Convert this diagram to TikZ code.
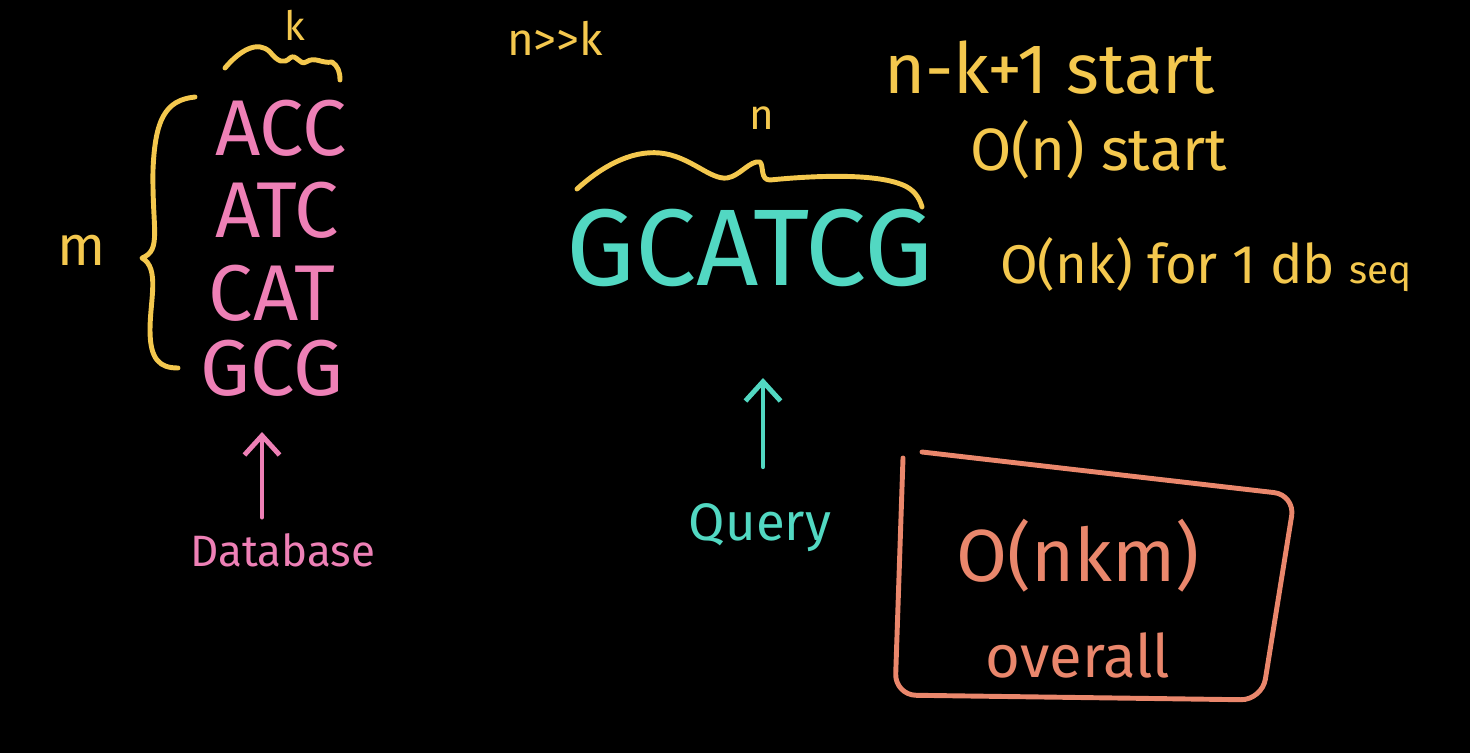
\documentclass[tikz,border=0pt]{standalone}
\usepackage{fontspec}
\setmainfont{Fira Sans}
\usetikzlibrary{arrows.meta}
\definecolor{chalkyellow}{HTML}{F4C84E}
\definecolor{chalkpink}{HTML}{EE80B6}
\definecolor{chalkteal}{HTML}{52D8C2}
\definecolor{chalkorange}{HTML}{EA876C}
\newcommand\chalksize[1]{\fontsize{#1}{#1}\selectfont}
\tikzset{
  chalk/.style={line width=2.8pt, line cap=round, line join=round},
  word/.style={inner sep=1pt},
  hand/.style={chalk, -{Straight Barb[length=11pt,width=20pt,line width=2.8pt]}}
}
\begin{document}
\begin{tikzpicture}[x=0.02cm, y=-0.02cm]
        \fill[black] (0,0) rectangle (1470,753);
        \useasboundingbox (0,0) rectangle (1470,753);

        \node[word, text=chalkyellow, font=\chalksize{23}] (k) at (295,25) {k};
        \draw[chalk, chalkyellow] (225,68)
        .. controls (240,50) and (258,40) .. (270,52)
        .. controls (278,62) and (284,64) .. (290,58)
        .. controls (296,53) and (300,66) .. (306,62)
        .. controls (315,56) and (322,64) .. (332,62)
        .. controls (338,66) and (340,72) .. (340,80);

        \node[word, text=chalkpink, font=\chalksize{45}] (acc) at (281,128) {ACC};
        \node[word, text=chalkpink, font=\chalksize{45}] (atc) at (277,210) {ATC};
        \node[word, text=chalkpink, font=\chalksize{45}] (cat) at (272,293) {CAT};
        \node[word, text=chalkpink, font=\chalksize{45}] (gcg) at (272,368) {GCG};

        \node[word, text=chalkyellow, font=\chalksize{32}] (m) at (82,250) {m};
        \draw[chalk, chalkyellow] (195,97)
        .. controls (165,100) and (155,120) .. (153,170)
        .. controls (152,230) and (162,250) .. (142,258)
        .. controls (160,268) and (150,300) .. (150,330)
        .. controls (150,360) and (160,368) .. (178,368);

        \node[word, text=chalkpink, font=\chalksize{25}] (db) at (283,550) {Database};
        \coordinate (dbtip) at (262,432);
        \draw[hand, chalkpink, shorten <=8pt] (db.north -| dbtip) -- (dbtip);

        \node[word, text=chalkyellow, font=\chalksize{26}] (nk) at (555,38) {n{>}{>}k};

        \node[word, text=chalkyellow, font=\chalksize{24}] (n) at (762,118) {n};
        \draw[chalk, chalkyellow] (577,189)
        .. controls (600,168) and (630,150) .. (660,153)
        .. controls (690,156) and (710,180) .. (727,178)
        .. controls (740,176) and (750,160) .. (760,162)
        .. controls (764,166) and (760,180) .. (770,180)
        .. controls (810,176) and (880,172) .. (907,187)
        .. controls (916,192) and (920,200) .. (922,207);

        \node[word, text=chalkteal, font=\chalksize{62}] (query) at (750,248) {GCATCG};
        \node[word, text=chalkteal, font=\chalksize{30}] (ql) at (760,528) {Query};
        \coordinate (qtip) at (763,378);
        \draw[hand, chalkteal, shorten <=20pt] (ql.north -| qtip) -- (qtip);

        \node[word, anchor=west, text=chalkyellow, font=\chalksize{40}] (starts) at (882,68) {n-k+1 start};
        \node[word, anchor=west, text=chalkyellow, font=\chalksize{34}] (ostart) at (968,150) {O(n) start};
        \node[word, anchor=west, text=chalkyellow, font=\chalksize{31}] (onk) at (998,265) {O(nk) for 1 db {\chalksize{22}seq}};

        \draw[chalk, chalkorange, rounded corners=12pt] (922,452) -- (1295,495)
        -- (1262,700) -- (895,695) -- (903,458);
        \node[word, text=chalkorange, font=\chalksize{42}] (total) at (1078,556) {O(nkm)};
        \node[word, text=chalkorange, font=\chalksize{34}] (overall) at (1078,655) {overall};
    \end{tikzpicture}
\end{document}
